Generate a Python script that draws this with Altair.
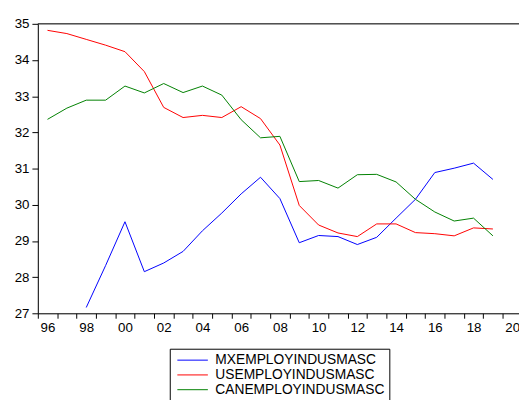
import altair as alt
import pandas as pd

years = list(range(1996, 2020))
mx = [None, None, 27.16, 28.32, 29.53, 28.15, 28.39, 28.71, 29.28, 29.77, 30.30, 30.76,
      30.17, 28.95, 29.15, 29.12, 28.90, 29.10, 29.63, 30.15, 30.89, 31.01, 31.15, 30.70]
us = [34.82, 34.73, 34.57, 34.41, 34.23, 33.68, 32.69, 32.41, 32.47, 32.41, 32.71, 32.38,
      31.65, 29.98, 29.44, 29.22, 29.12, 29.47, 29.47, 29.23, 29.20, 29.14, 29.36, 29.33]
can = [32.36, 32.67, 32.89, 32.89, 33.28, 33.09, 33.35, 33.10, 33.28, 33.03, 32.35, 31.85,
       31.89, 30.64, 30.67, 30.46, 30.83, 30.84, 30.63, 30.15, 29.80, 29.55, 29.63, 29.14]
series_names = ["MXEMPLOYINDUSMASC", "USEMPLOYINDUSMASC", "CANEMPLOYINDUSMASC"]
series_colors = ["#0000FF", "#FF0000", "#008000"]
y_ticks = [27, 28, 29, 30, 31, 32, 33, 34, 35]

rows = []
for name, vals in zip(series_names, [mx, us, can]):
    for yr, v in zip(years, vals):
        if v is not None:
            rows.append({"year": yr, "value": v, "series": name})
df = pd.DataFrame(rows)

band_edges = [1995.5 + i for i in range(25)]

FONT = "Liberation Sans"
BAND = 19.668
PAD_L = 30.3
SVG_W = 519
PLOT_W = SVG_W - PAD_L
X_MAX = 1995.5 + PLOT_W / BAND

x_scale = alt.Scale(domain=[1995.5, X_MAX], nice=False, zero=False)
y_scale = alt.Scale(domain=[27, 35], nice=False, zero=False)

y_axis = alt.Axis(values=y_ticks, title=None, grid=False, tickSize=6,
                  labelPadding=3, labelFont=FONT, labelFontSize=13.5,
                  labelColor="#000", domainColor="#000", tickColor="#000")

lines = alt.Chart(df).mark_line(strokeWidth=1).encode(
    x=alt.X("year:Q", scale=x_scale,
            axis=alt.Axis(values=band_edges, title=None, grid=False,
                          labelExpr="(datum.value + 0.5) % 2 == 0 ? slice('0' + ((datum.value + 0.5) % 100), -2) : ''",
                          labelOffset=BAND / 2, labelOverlap=False, labelFlush=False,
                          labelBound=False, tickSize=5, labelPadding=2,
                          labelFont=FONT, labelFontSize=13.5, labelColor="#000",
                          domainColor="#000", tickColor="#000")),
    y=alt.Y("value:Q", scale=y_scale, axis=y_axis),
    color=alt.Color("series:N",
                    scale=alt.Scale(domain=series_names, range=series_colors),
                    legend=alt.Legend(title=None, orient="none", legendX=134, legendY=330,
                                      symbolType="stroke", symbolSize=961,
                                      symbolStrokeWidth=1, symbolOffset=2.6,
                                      clipHeight=14,
                                      labelFont=FONT, labelFontSize=14, labelColor="#000",
                                      labelLimit=400, labelOffset=7.1, rowPadding=1,
                                      padding=4.6, strokeColor="#000", fillColor="#fff")),
    order=alt.Order("year:Q"),
)

top_frame = alt.Chart(pd.DataFrame({"top": [35]})).mark_rule(color="#000", strokeWidth=1).encode(
    y=alt.Y("top:Q", scale=y_scale, axis=y_axis)
)

chart = alt.layer(lines, top_frame).properties(
    width=PLOT_W, height=294,
    autosize=alt.AutoSizeParams(type="none"),
    padding={"left": PAD_L, "top": 13, "right": 0, "bottom": 85},
).configure_view(strokeWidth=0).configure(background="#fff")

chart.save("out.html", embed_options={"renderer": "svg", "actions": False})
